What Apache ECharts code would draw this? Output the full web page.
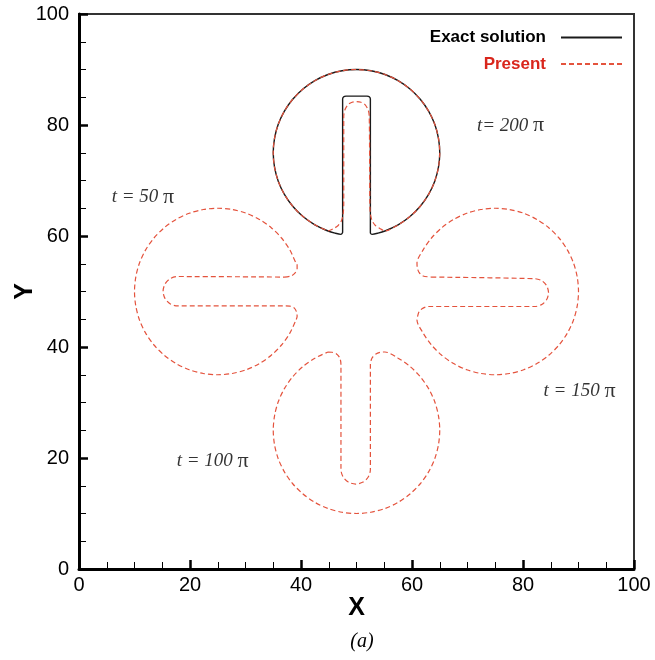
<!DOCTYPE html>
<html>
<head>
<meta charset="utf-8">
<script src="https://cdn.jsdelivr.net/npm/echarts@6/dist/echarts.min.js"></script>
<style>
  html, body { margin: 0; padding: 0; background: #fff; }
  #chart { width: 655px; height: 660px; }
</style>
</head>
<body>
<div id="chart"></div>
<script>
// Zalesak slotted-disk interface after successive rotations about (50, 50).
// Each contour is a closed list of [X, Y] points.

// Analytical contour at t = 200π (back at its starting position)
const exact200 = [
  [47.5, 60.6], [47.5, 84.7], [47.7, 85.1], [48.1, 85.2], [51.9, 85.2], [52.3, 85.1], [52.5, 84.7],
  [52.5, 60.6], [52.8, 60.3], [53.88, 60.51], [55.13, 60.90], [57.50, 62.01], [59.64, 63.51],
  [61.49, 65.36], [62.99, 67.50], [64.10, 69.87], [64.77, 72.40], [65.00, 75.00], [64.77, 77.60],
  [64.10, 80.13], [62.99, 82.50], [61.49, 84.64], [59.64, 86.49], [57.50, 87.99], [55.13, 89.10],
  [52.60, 89.77], [50.00, 90.00], [47.40, 89.77], [44.87, 89.10], [42.50, 87.99], [40.36, 86.49],
  [38.51, 84.64], [37.01, 82.50], [35.90, 80.13], [35.23, 77.60], [35.00, 75.00], [35.23, 72.40],
  [35.90, 69.87], [37.01, 67.50], [38.51, 65.36], [40.36, 63.51], [42.50, 62.01], [44.87, 60.90],
  [46.12, 60.51], [47.2, 60.3], [47.5, 60.6]
];

// Computed contour at t = 50π (disk on the left, slot opening to the right)
const present50 = [
  [37.0, 52.6], [38.2, 52.8], [38.9, 53.3], [39.3, 54.1], [39.3, 54.9], [39.10, 55.13],
  [37.99, 57.50], [36.49, 59.64], [34.64, 61.49], [32.50, 62.99], [30.13, 64.10], [27.60, 64.77],
  [25.00, 65.00], [22.40, 64.77], [19.87, 64.10], [17.50, 62.99], [15.36, 61.49], [13.51, 59.64],
  [12.01, 57.50], [10.90, 55.13], [10.23, 52.60], [10.00, 50.00], [10.23, 47.40], [10.90, 44.87],
  [12.01, 42.50], [13.51, 40.36], [15.36, 38.51], [17.50, 37.01], [19.87, 35.90], [22.40, 35.23],
  [25.00, 35.00], [27.60, 35.23], [30.13, 35.90], [32.50, 37.01], [34.64, 38.51], [36.49, 40.36],
  [37.99, 42.50], [39.10, 44.87], [39.3, 45.5], [39.2, 46.3], [38.8, 47.0], [38.0, 47.35],
  [36.8, 47.4], [17.8, 47.4], [16.47, 47.76], [15.51, 48.72], [15.15, 50.05], [15.51, 51.38],
  [16.47, 52.34], [17.8, 52.7], [37.0, 52.6]
];

// Computed contour at t = 100π (disk at the bottom, slot opening upward)
const present100 = [
  [44.87, 39.10], [45.6, 39.05], [46.4, 38.75], [47.0, 38.0], [47.2, 36.8], [47.2, 17.95],
  [47.56, 16.62], [48.52, 15.66], [49.85, 15.3], [51.18, 15.66], [52.14, 16.62], [52.5, 17.95],
  [52.5, 36.8], [52.8, 38.0], [53.5, 38.75], [54.3, 39.05], [55.13, 39.10], [57.50, 37.99],
  [59.64, 36.49], [61.49, 34.64], [62.99, 32.50], [64.10, 30.13], [64.77, 27.60], [65.00, 25.00],
  [64.77, 22.40], [64.10, 19.87], [62.99, 17.50], [61.49, 15.36], [59.64, 13.51], [57.50, 12.01],
  [55.13, 10.90], [52.60, 10.23], [50.00, 10.00], [47.40, 10.23], [44.87, 10.90], [42.50, 12.01],
  [40.36, 13.51], [38.51, 15.36], [37.01, 17.50], [35.90, 19.87], [35.23, 22.40], [35.00, 25.00],
  [35.23, 27.60], [35.90, 30.13], [37.01, 32.50], [38.51, 34.64], [40.36, 36.49], [42.50, 37.99],
  [44.87, 39.10]
];

// Computed contour at t = 150π (disk on the right, slot opening to the left)
const present150 = [
  [63.5, 52.6], [82.15, 52.3], [83.38, 51.95], [84.27, 51.02], [84.6, 49.8], [84.27, 48.55],
  [83.38, 47.65], [82.15, 47.3], [63.0, 47.3], [62.0, 47.0], [61.3, 46.4], [61.0, 45.5],
  [60.90, 44.87], [62.01, 42.50], [63.51, 40.36], [65.36, 38.51], [67.50, 37.01], [69.87, 35.90],
  [72.40, 35.23], [75.00, 35.00], [77.60, 35.23], [80.13, 35.90], [82.50, 37.01], [84.64, 38.51],
  [86.49, 40.36], [87.99, 42.50], [89.10, 44.87], [89.77, 47.40], [90.00, 50.00], [89.77, 52.60],
  [89.10, 55.13], [87.99, 57.50], [86.49, 59.64], [84.64, 61.49], [82.50, 62.99], [80.13, 64.10],
  [77.60, 64.77], [75.00, 65.00], [72.40, 64.77], [69.87, 64.10], [67.50, 62.99], [65.36, 61.49],
  [63.51, 59.64], [62.01, 57.50], [60.90, 55.13], [60.95, 54.3], [61.3, 53.4], [62.0, 52.8],
  [63.5, 52.6]
];

// Computed contour at t = 200π (one full revolution)
const present200 = [
  [44.87, 60.90], [45.8, 61.3], [46.7, 61.9], [47.3, 62.8], [47.6, 64.0], [47.7, 66.0],
  [47.7, 81.5], [47.9, 82.7], [48.5, 83.7], [49.2, 84.1], [50.0, 84.2], [50.8, 84.1],
  [51.5, 83.7], [52.1, 82.7], [52.3, 81.5], [52.4, 66.0], [52.5, 64.0], [52.8, 62.8],
  [53.4, 61.9], [54.3, 61.3], [55.13, 60.90], [57.50, 62.01], [59.64, 63.51], [61.49, 65.36],
  [62.99, 67.50], [64.10, 69.87], [64.77, 72.40], [65.00, 75.00], [64.77, 77.60], [64.10, 80.13],
  [62.99, 82.50], [61.49, 84.64], [59.64, 86.49], [57.50, 87.99], [55.13, 89.10], [52.60, 89.77],
  [50.00, 90.00], [47.40, 89.77], [44.87, 89.10], [42.50, 87.99], [40.36, 86.49], [38.51, 84.64],
  [37.01, 82.50], [35.90, 80.13], [35.23, 77.60], [35.00, 75.00], [35.23, 72.40], [35.90, 69.87],
  [37.01, 67.50], [38.51, 65.36], [40.36, 63.51], [42.50, 62.01], [44.87, 60.90]
];

// Time labels placed beside each contour (left edge X, mid-height Y)
const timeLabels = ['t = 50 ', 't= 200 ', 't = 150 ', 't = 100 '];
const timeLabelX = [5.9, 71.7, 83.7, 17.6];
const timeLabelY = [67.0, 79.9, 32.1, 19.5];

// Axis ticks
const axisMin = 0, axisMax = 100, majorStep = 20;

const SANS = '"Liberation Sans", Arial, Helvetica, sans-serif';
const SERIF = '"Liberation Serif", "Times New Roman", serif';
const RED = '#e4533d';

const chart = echarts.init(document.getElementById('chart'), null, { renderer: 'canvas' });

function axisCommon(name) {
  return {
    type: 'value',
    min: axisMin,
    max: axisMax,
    interval: majorStep,
    name: name,
    nameLocation: 'middle',
    nameMoveOverlap: false,
    nameTextStyle: { fontFamily: SANS, fontWeight: 'bold', fontSize: 25, color: '#000' },
    axisLine: { show: true, onZero: false, lineStyle: { color: '#000', width: 3 } },
    axisTick: { show: true, inside: true, length: 9, lineStyle: { color: '#000', width: 2.5 } },
    minorTick: { show: true, splitNumber: 4, length: 7, lineStyle: { color: '#000', width: 1 } },
    splitLine: { show: false },
    minorSplitLine: { show: false },
    axisLabel: { fontFamily: SANS, fontSize: 20, color: '#000' }
  };
}

const xAxis = Object.assign(axisCommon('X'), { nameGap: 27 });
xAxis.axisLabel.margin = 6;
const yAxis = Object.assign(axisCommon('Y'), { nameGap: 41, nameRotate: 90 });
yAxis.axisLabel.margin = 10;

function contour(name, data, color, dashed) {
  return {
    name: name,
    type: 'line',
    data: data,
    symbol: 'none',
    smooth: 0.3,
    silent: true,
    lineStyle: { color: color, width: dashed ? 1.2 : 1.4, type: dashed ? [5, 3] : 'solid' },
    itemStyle: { color: color },
    z: dashed ? 3 : 2
  };
}

const option = {
  animation: false,
  backgroundColor: '#fff',
  grid: {
    left: 79, top: 14, width: 555, height: 555,
    outerBoundsMode: 'none',
    show: true, borderColor: '#333', borderWidth: 2, backgroundColor: 'transparent'
  },
  xAxis: xAxis,
  yAxis: yAxis,
  title: {
    text: '(a)',
    left: 357, top: 627,
    textAlign: 'center',
    textStyle: { fontFamily: SERIF, fontStyle: 'italic', fontWeight: 'normal', fontSize: 20, color: '#000' }
  },
  legend: {
    orient: 'vertical',
    align: 'right',
    right: 27,
    top: 24,
    itemWidth: 61,
    itemHeight: 12,
    itemGap: 9.6,
    selectedMode: false,
    itemStyle: { opacity: 0 },
    data: [
      { name: 'Exact solution', textStyle: { color: '#000' } },
      { name: 'Present', textStyle: { color: '#d9261c' } }
    ],
    textStyle: { fontFamily: SANS, fontWeight: 'bold', fontSize: 17, padding: [0, 10, 0, 0] }
  },
  series: [
    contour('Exact solution', exact200, '#1a1a1a', false),
    contour('Present', present50, RED, true),
    contour('Present', present100, RED, true),
    contour('Present', present150, RED, true),
    contour('Present', present200, RED, true),
    {
      name: 'time labels',
      type: 'scatter',
      symbolSize: 0,
      silent: true,
      data: timeLabels.map((t, i) => ({ value: [timeLabelX[i], timeLabelY[i]], label: { formatter: '{t|' + t + '}{p|\u03c0}' } })),
      label: {
        show: true,
        position: 'inside',
        align: 'left',
        verticalAlign: 'middle',
        rich: {
          t: { fontFamily: SERIF, fontStyle: 'italic', fontSize: 19, color: '#000' },
          p: { fontFamily: SERIF, fontStyle: 'normal', fontSize: 22, color: '#000' }
        }
      }
    }
  ]
};

chart.setOption(option);
</script>
</body>
</html>
